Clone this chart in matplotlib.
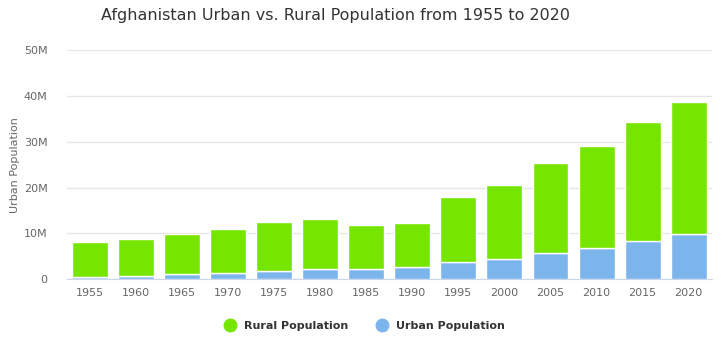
import matplotlib
matplotlib.use("Agg")
import matplotlib.pyplot as plt
from matplotlib.lines import Line2D
from matplotlib.ticker import FuncFormatter

years = ["1955", "1960", "1965", "1970", "1975", "1980", "1985", "1990",
         "1995", "2000", "2005", "2010", "2015", "2020"]
urban = [0.57, 0.62, 1.05, 1.3, 1.74, 2.2, 2.2, 2.6, 3.75, 4.35, 5.7, 6.75, 8.3, 9.8]
total = [8.2, 8.8, 9.9, 10.95, 12.55, 13.1, 11.8, 12.3, 18.0, 20.6, 25.4, 29.0, 34.3, 38.7]
rural = [t - u for t, u in zip(total, urban)]
yticks = [0, 10, 20, 30, 40, 50]

GREEN = "#76E500"
BLUE = "#7CB5EC"

fig = plt.figure(figsize=(7.24, 3.42), dpi=100)
ax = fig.add_axes([0.0925, 0.1833, 0.8905, 0.6705])

x = list(range(len(years)))
ax.bar(x, urban, width=0.78, color=BLUE, edgecolor="white", linewidth=1, zorder=3)
ax.bar(x, rural, bottom=urban, width=0.78, color=GREEN, edgecolor="white", linewidth=1, zorder=3)

ax.set_xlim(-0.5, len(years) - 0.5)
ax.set_ylim(0, 50)
ax.set_yticks(yticks)
ax.yaxis.set_major_formatter(FuncFormatter(lambda v, p: "0" if v == 0 else f"{int(v)}M"))
ax.set_xticks(x)
ax.set_xticklabels(years)
ax.grid(axis="y", color="#e6e6e6", linewidth=1, zorder=0)
for s in ["top", "right", "left"]:
    ax.spines[s].set_visible(False)
ax.spines["bottom"].set_color("#ccd6eb")
ax.tick_params(axis="y", length=0, pad=14, labelsize=8, labelcolor="#666666")
ax.tick_params(axis="x", length=0, pad=6, labelsize=8, labelcolor="#666666")
ax.set_ylabel("Urban Population", fontsize=8, color="#666666", labelpad=3)

fig.text(0.463, 0.955, "Afghanistan Urban vs. Rural Population from 1955 to 2020",
         ha="center", va="center", fontsize=11.5, color="#333333")

handles = [Line2D([], [], marker="o", linestyle="", markersize=9, markerfacecolor=GREEN, markeredgecolor=GREEN),
           Line2D([], [], marker="o", linestyle="", markersize=9, markerfacecolor=BLUE, markeredgecolor=BLUE)]
leg = fig.legend(handles, ["Rural Population", "Urban Population"], loc="center",
                 bbox_to_anchor=(0.5, 0.047), ncol=2, frameon=False,
                 prop={"weight": "bold", "size": 8}, handletextpad=0.3, columnspacing=2.0)
for t in leg.get_texts():
    t.set_color("#333333")

fig.savefig("out.png", dpi=100, facecolor="white")
